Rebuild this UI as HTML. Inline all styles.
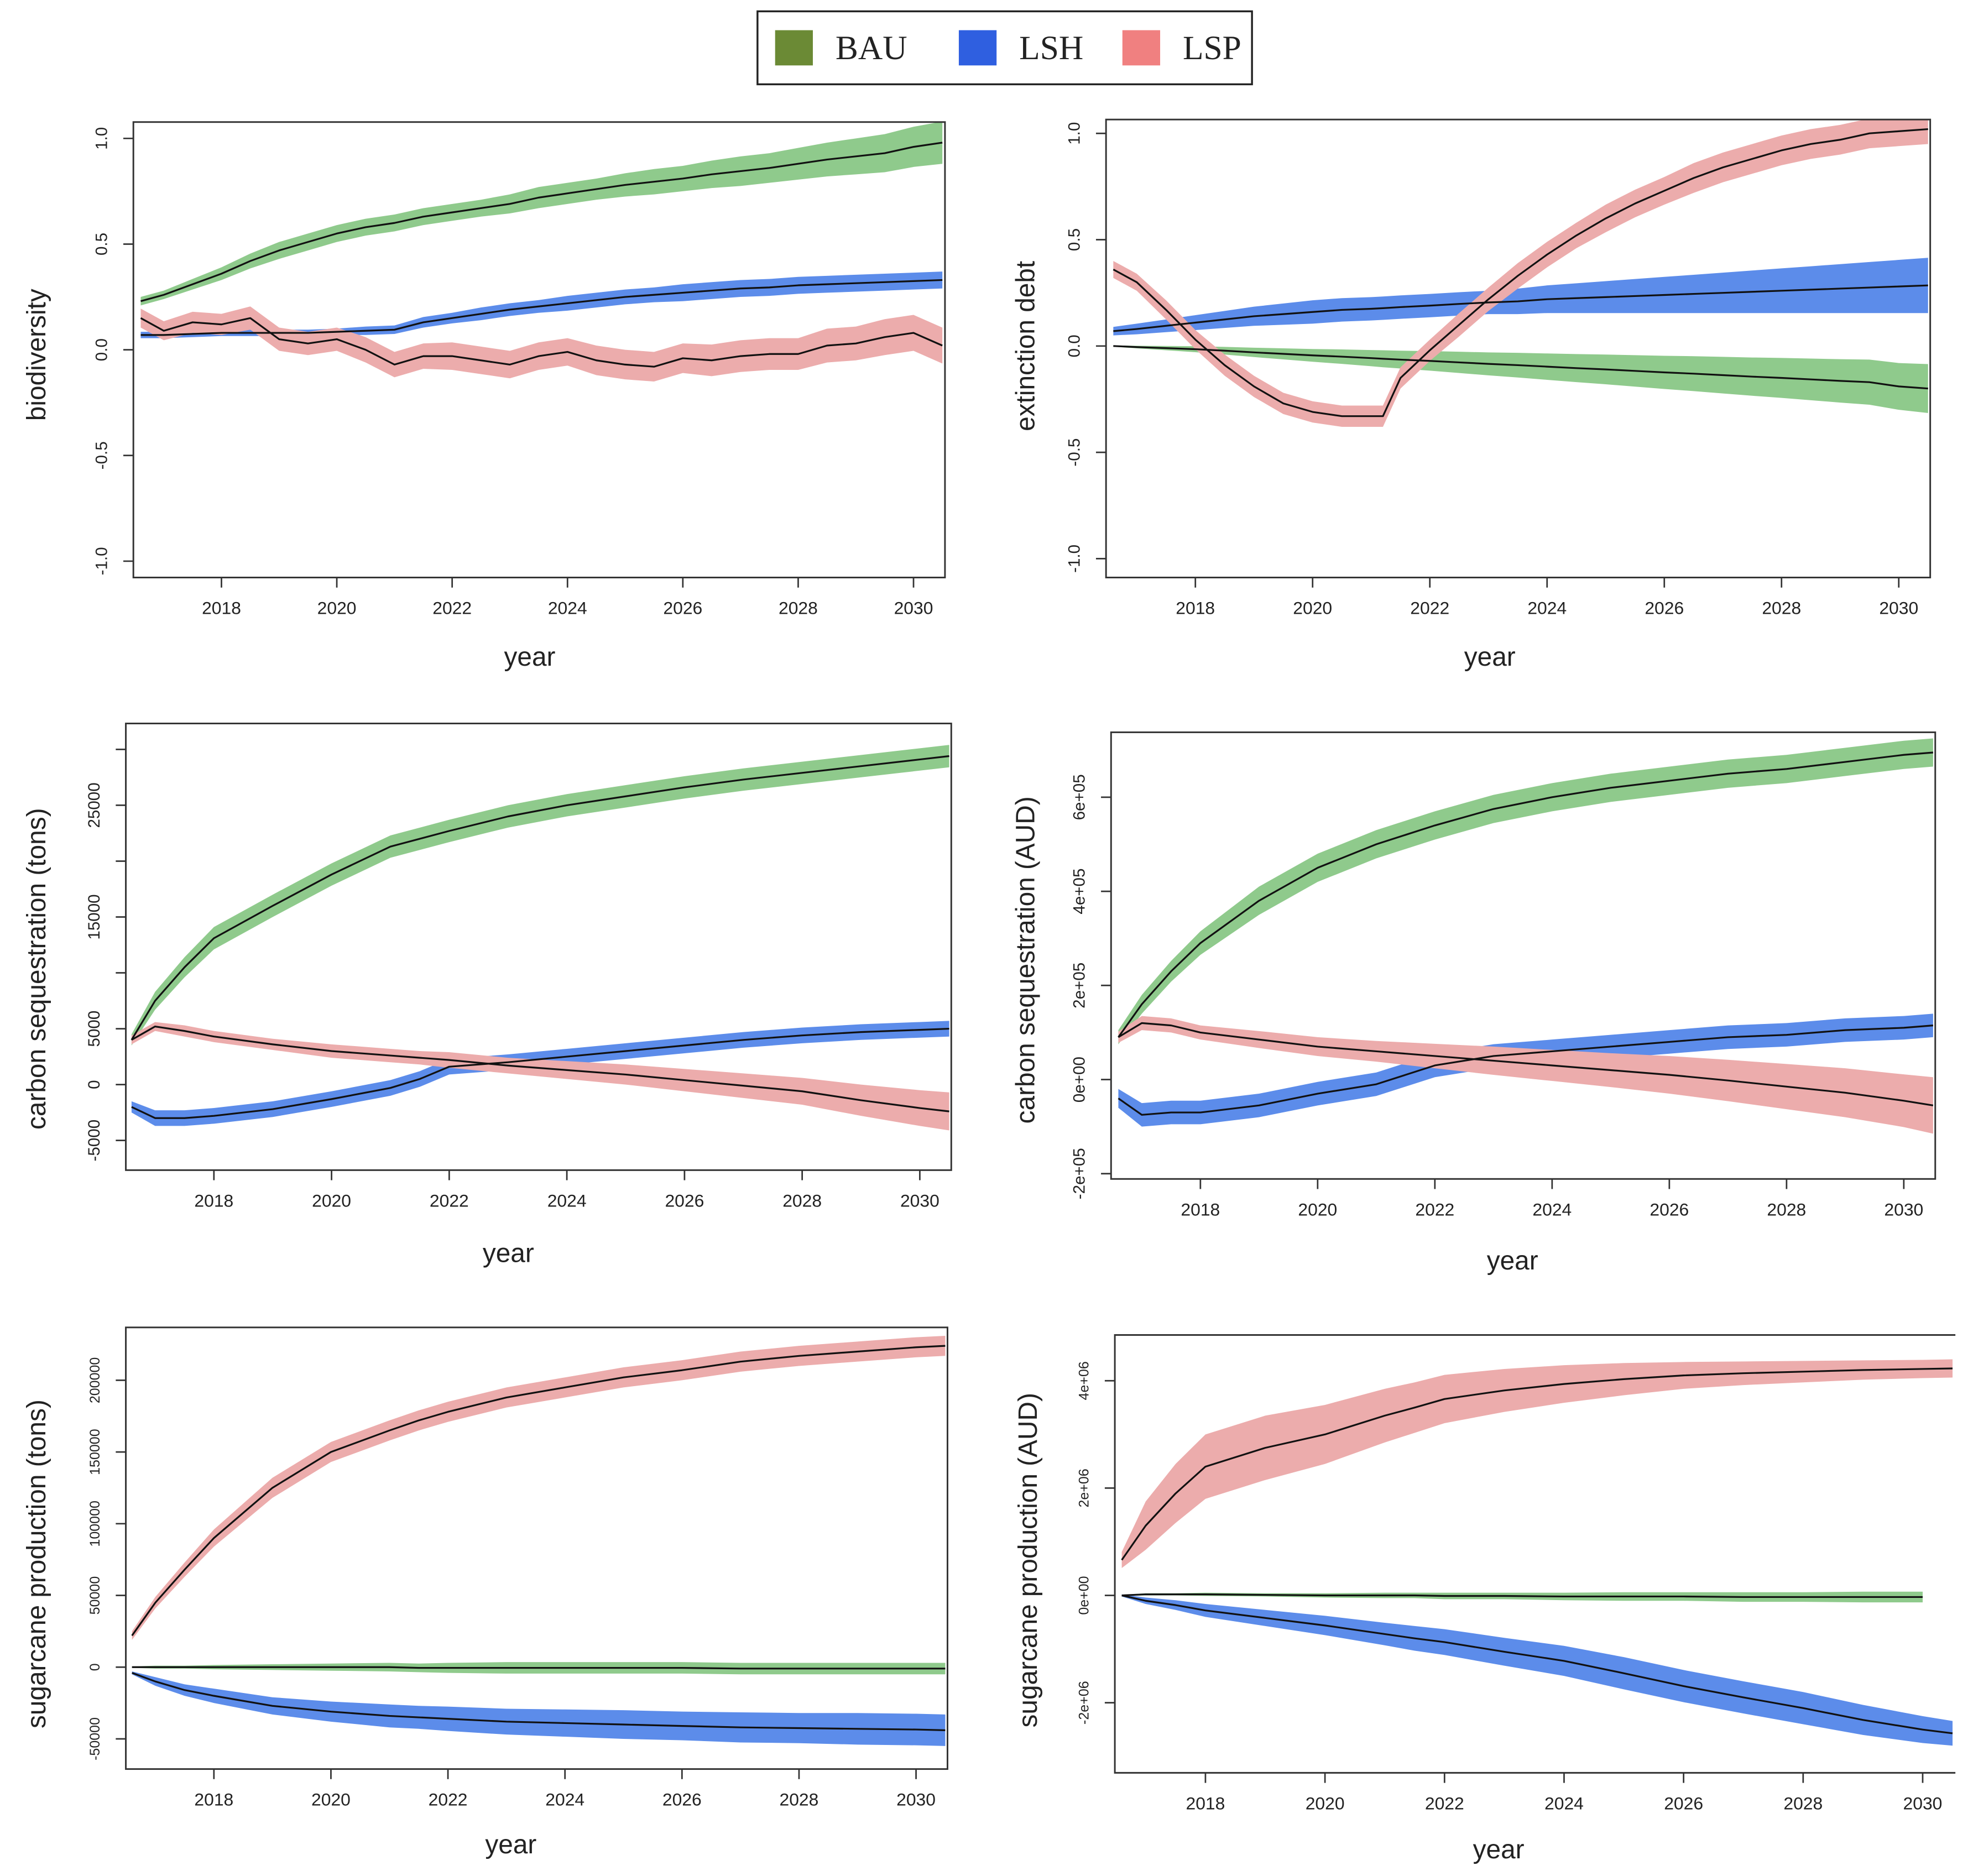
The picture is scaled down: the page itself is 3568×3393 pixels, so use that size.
<!DOCTYPE html>
<html><head><meta charset="utf-8"><style>
html,body{margin:0;padding:0;background:#fff;}
svg{display:block;}
text{font-family:"Liberation Sans",Arial,sans-serif;fill:#222;}
</style></head><body>
<svg id="fig" width="3568" height="3393" viewBox="0 0 1568 1491" preserveAspectRatio="none" xmlns="http://www.w3.org/2000/svg">
<g>
<rect x="602" y="9" width="393" height="58" fill="#fff" stroke="#222" stroke-width="1.5"/>
<rect x="616" y="24" width="30" height="28" fill="#6b8a35"/>
<text x="664" y="47" font-size="27" style="font-family:'Liberation Serif',serif">BAU</text>
<rect x="762" y="24" width="30" height="28" fill="#2f5fe0"/>
<text x="810" y="47" font-size="27" style="font-family:'Liberation Serif',serif">LSH</text>
<rect x="892" y="24" width="30" height="28" fill="#f08080"/>
<text x="940" y="47" font-size="27" style="font-family:'Liberation Serif',serif">LSP</text>
</g>
</svg>
<script>
// ---- shared
const xTickYears = [2018,2020,2022,2024,2026,2028,2030];
const xTickLabels = ["2018","2020","2022","2024","2026","2028","2030"];

// ---- panel 1 biodiversity
const bioYears = [2016.6,2017,2017.5,2018,2018.5,2019,2019.5,2020,2020.5,2021,2021.5,2022,2022.5,2023,2023.5,2024,2024.5,2025,2025.5,2026,2026.5,2027,2027.5,2028,2028.5,2029,2029.5,2030,2030.5];
const bioBAU = [0.23,0.26,0.31,0.36,0.42,0.47,0.51,0.55,0.58,0.60,0.63,0.65,0.67,0.69,0.72,0.74,0.76,0.78,0.795,0.81,0.83,0.845,0.86,0.88,0.90,0.915,0.93,0.96,0.98];
const bioBAUhw = [0.02,0.02,0.025,0.03,0.035,0.04,0.04,0.04,0.04,0.04,0.04,0.04,0.04,0.045,0.05,0.05,0.05,0.055,0.06,0.06,0.065,0.07,0.07,0.075,0.08,0.085,0.09,0.095,0.1];
const bioLSH = [0.07,0.07,0.075,0.08,0.08,0.08,0.08,0.085,0.09,0.095,0.13,0.15,0.17,0.19,0.205,0.22,0.235,0.25,0.26,0.27,0.28,0.29,0.295,0.305,0.31,0.315,0.32,0.325,0.33];
const bioLSHhw = [0.015,0.015,0.015,0.015,0.015,0.015,0.015,0.015,0.02,0.02,0.025,0.025,0.03,0.03,0.03,0.035,0.035,0.035,0.035,0.04,0.04,0.04,0.04,0.04,0.04,0.04,0.04,0.04,0.04];
const bioLSP = [0.15,0.09,0.13,0.12,0.15,0.05,0.03,0.05,0.0,-0.07,-0.03,-0.03,-0.05,-0.07,-0.03,-0.01,-0.05,-0.07,-0.08,-0.04,-0.05,-0.03,-0.02,-0.02,0.02,0.03,0.06,0.08,0.02];
const bioLSPhw = [0.045,0.045,0.05,0.05,0.055,0.055,0.055,0.055,0.06,0.06,0.06,0.065,0.065,0.065,0.065,0.065,0.07,0.07,0.07,0.07,0.075,0.075,0.075,0.075,0.08,0.08,0.085,0.085,0.085];
const bioTicks = [1.0,0.5,0.0,-0.5,-1.0];
const bioTickLabels = ["1.0","0.5","0.0","-0.5","-1.0"];

// ---- panel 2 extinction debt
const extYears = [2016.6,2017,2017.5,2018,2018.5,2019,2019.5,2020,2020.5,2021,2021.2,2021.5,2022,2022.5,2023,2023.5,2024,2024.5,2025,2025.5,2026,2026.5,2027,2027.5,2028,2028.5,2029,2029.5,2030,2030.5];
const extBAU = [0,-0.005,-0.01,-0.015,-0.022,-0.03,-0.037,-0.044,-0.05,-0.057,-0.06,-0.064,-0.07,-0.077,-0.084,-0.09,-0.097,-0.104,-0.11,-0.117,-0.124,-0.13,-0.137,-0.144,-0.15,-0.157,-0.164,-0.17,-0.19,-0.2];
const extBAUhw = [0.003,0.006,0.01,0.014,0.018,0.022,0.026,0.03,0.034,0.038,0.04,0.042,0.046,0.05,0.054,0.058,0.062,0.066,0.07,0.074,0.078,0.082,0.086,0.09,0.094,0.098,0.102,0.106,0.11,0.115];
const extLSH = [0.07,0.08,0.095,0.11,0.125,0.14,0.15,0.16,0.17,0.175,0.178,0.183,0.19,0.198,0.205,0.21,0.22,0.225,0.23,0.235,0.24,0.245,0.25,0.255,0.26,0.265,0.27,0.275,0.28,0.285];
const extLSHhw = [0.02,0.025,0.03,0.035,0.04,0.045,0.05,0.055,0.055,0.055,0.055,0.055,0.055,0.055,0.055,0.06,0.065,0.07,0.075,0.08,0.085,0.09,0.095,0.1,0.105,0.11,0.115,0.12,0.125,0.13];
const extLSP = [0.36,0.30,0.17,0.03,-0.09,-0.19,-0.27,-0.31,-0.33,-0.33,-0.33,-0.15,-0.02,0.10,0.22,0.33,0.43,0.52,0.60,0.67,0.73,0.79,0.84,0.88,0.92,0.95,0.97,1.0,1.01,1.02];
const extLSPhw = [0.04,0.04,0.045,0.045,0.05,0.05,0.05,0.05,0.05,0.05,0.05,0.05,0.05,0.055,0.055,0.06,0.06,0.06,0.065,0.065,0.065,0.07,0.07,0.07,0.07,0.07,0.07,0.07,0.07,0.07];
const extTicks = [1.0,0.5,0.0,-0.5,-1.0];
const extTickLabels = ["1.0","0.5","0.0","-0.5","-1.0"];

// ---- panels 3-6 year grid
const gridYears = [2016.6,2017,2017.5,2018,2019,2020,2021,2021.5,2022,2023,2024,2025,2026,2027,2028,2029,2030,2030.5];

// panel 3 carbon (tons)
const ctBAU = [4000,7500,10500,13100,16000,18800,21300,22000,22700,24000,25000,25800,26600,27300,27900,28500,29100,29400];
const ctBAUhw = [500,800,900,1000,1000,1000,1000,1000,1000,1000,1000,1000,1000,1000,1000,1000,1000,1000];
const ctLSP = [4000,5200,4800,4300,3600,3000,2600,2400,2200,1700,1300,900,400,-100,-600,-1400,-2100,-2400];
const ctLSPhw = [400,400,500,500,500,600,600,600,700,700,800,900,1000,1100,1200,1400,1600,1700];
const ctLSH = [-2000,-3000,-3000,-2800,-2200,-1300,-300,500,1600,2000,2500,3000,3500,4000,4400,4700,4900,5000];
const ctLSHhw = [500,700,700,700,700,700,700,700,700,700,700,700,700,700,700,700,700,700];
const ctTicks = [-5000,0,5000,10000,15000,20000,25000,30000];
const ctTickLabels = ["-5000","0","5000","","15000","","25000",""];

// panel 4 carbon (AUD, units 1e5)
const caBAU = [0.9,1.6,2.3,2.9,3.8,4.5,5.0,5.2,5.4,5.75,6.0,6.2,6.35,6.5,6.6,6.75,6.9,6.95];
const caBAUhw = [0.15,0.2,0.22,0.25,0.3,0.3,0.3,0.3,0.3,0.3,0.3,0.3,0.3,0.3,0.3,0.3,0.3,0.3];
const caLSP = [0.9,1.2,1.15,1.0,0.85,0.7,0.6,0.55,0.5,0.4,0.3,0.2,0.1,-0.02,-0.15,-0.28,-0.45,-0.55];
const caLSPhw = [0.12,0.15,0.15,0.15,0.18,0.2,0.22,0.24,0.26,0.3,0.33,0.36,0.4,0.44,0.48,0.52,0.56,0.6];
const caLSH = [-0.4,-0.75,-0.7,-0.7,-0.55,-0.3,-0.1,0.1,0.3,0.5,0.6,0.7,0.8,0.9,0.95,1.05,1.1,1.15];
const caLSHhw = [0.2,0.25,0.25,0.25,0.25,0.25,0.25,0.25,0.25,0.25,0.25,0.25,0.25,0.25,0.25,0.25,0.25,0.25];
const caTicks = [-2,0,2,4,6];
const caTickLabels = ["-2e+05","0e+00","2e+05","4e+05","6e+05"];

// panel 5 sugarcane (tons, units 1000)
const stLSP = [22,45,68,90,125,150,165,172,178,188,195,202,207,213,217,220,223,224];
const stLSPhw = [3,4,5,6,7,7,7,7,7,7,7,7,7,7,7,7,7,7];
const stBAU = [0,0,0,0,0,0,0,-0.5,-0.5,-0.5,-0.5,-0.5,-0.5,-1,-1,-1,-1,-1];
const stBAUhw = [0.5,1,1,1.5,2,2.5,3,3,3.5,4,4,4,4,4,4,4,4,4];
const stLSH = [-4,-10,-16,-20,-27,-31,-34,-35,-36,-38,-39,-40,-41,-42,-42.5,-43,-43.5,-44];
const stLSHhw = [1,3,4,5,6,7,8,8,8.5,9,9.5,10,10,10.5,10.5,11,11,11];
const stTicks = [-50,0,50,100,150,200];
const stTickLabels = ["-50000","0","50000","100000","150000","200000"];

// panel 6 sugarcane (AUD, units 1e6)
const saLSP = [0.66,1.3,1.9,2.4,2.75,3.0,3.35,3.5,3.66,3.82,3.94,4.03,4.1,4.14,4.17,4.2,4.22,4.23];
const saLSPhw = [0.15,0.45,0.55,0.6,0.6,0.55,0.5,0.47,0.45,0.4,0.35,0.3,0.25,0.22,0.2,0.18,0.17,0.17];
const saBAU = [0,0.02,0.02,0.02,0.01,0,0,0,-0.01,-0.01,-0.02,-0.02,-0.02,-0.03,-0.03,-0.03,-0.03,null];
const saBAUhw = [0.01,0.02,0.02,0.03,0.03,0.04,0.05,0.05,0.06,0.06,0.07,0.08,0.08,0.09,0.09,0.1,0.1,null];
const saLSH = [0,-0.1,-0.18,-0.28,-0.42,-0.56,-0.72,-0.8,-0.87,-1.05,-1.22,-1.45,-1.69,-1.9,-2.1,-2.32,-2.5,-2.57];
const saLSHhw = [0.02,0.06,0.09,0.12,0.15,0.18,0.21,0.23,0.24,0.26,0.28,0.3,0.3,0.3,0.3,0.28,0.25,0.23];
const saTicks = [-2,0,2,4];
const saTickLabels = ["-2e+06","0e+00","2e+06","4e+06"];

const NS = "http://www.w3.org/2000/svg";
const svg = document.getElementById('fig');
const COL = {BAU:'rgb(143,202,140)', LSH:'rgb(92,140,234)', LSP:'rgb(236,172,172)'};

function mk(tag, attrs, parent){
  const e = document.createElementNS(NS, tag);
  for (const k in attrs) e.setAttribute(k, attrs[k]);
  (parent||svg).appendChild(e);
  return e;
}

function scale(d0,p0,d1,p1){ return v => p0 + (v-d0)*(p1-p0)/(d1-d0); }

let clipId = 0;
function panel(cfg){
  const g = mk('g', {});
  
  
  const xs = scale(2018, cfg.x2018, 2030, cfg.x2030);
  const ys = scale(cfg.yA[0], cfg.yA[1], cfg.yB[0], cfg.yB[1]);
  const id = 'c' + (clipId++);
  const cp = mk('clipPath', {id:id}, g);
  mk('rect', {x:cfg.L, y:cfg.T, width:cfg.R-cfg.L, height:cfg.B-cfg.T}, cp);
  const plot = mk('g', {'clip-path':'url(#'+id+')'}, g);
  
  
  cfg.series.forEach(s => {
    const up = [], lo = [];
    cfg.years.forEach((yr,i) => {
      if (s.v[i] == null) return;
      up.push(xs(yr).toFixed(2)+','+ys(s.v[i]+s.hw[i]).toFixed(2));
      lo.push(xs(yr).toFixed(2)+','+ys(s.v[i]-s.hw[i]).toFixed(2));
    });
    const band = mk('polygon', {points: up.concat(lo.reverse()).join(' '), fill: COL[s.k]}, plot);
    
    
  });
  cfg.series.forEach(s => {
    const pts = [];
    cfg.years.forEach((yr,i) => { if (s.v[i] != null) pts.push(xs(yr).toFixed(2)+','+ys(s.v[i]).toFixed(2)); });
    const ln = mk('polyline', {points: pts.join(' '), fill:'none', stroke:'#111', 'stroke-width':1.4, 'stroke-linejoin':'round'}, plot);
    
    
  });
  if (cfg.noRight){
    mk('polyline', {points:`${cfg.R},${cfg.T} ${cfg.L},${cfg.T} ${cfg.L},${cfg.B} ${cfg.R},${cfg.B}`, fill:'none', stroke:'#333', 'stroke-width':1.3}, g);
  } else {
    mk('rect', {x:cfg.L, y:cfg.T, width:cfg.R-cfg.L, height:cfg.B-cfg.T, fill:'none', stroke:'#333', 'stroke-width':1.3}, g);
  }
  xTickYears.forEach((yr,i) => {
    const x = xs(yr);
    mk('line', {x1:x, x2:x, y1:cfg.B, y2:cfg.B+8, stroke:'#333', 'stroke-width':1.2}, g);
    const t = mk('text', {x:x, y:cfg.B+29, 'font-size':14, 'text-anchor':'middle'}, g);
    t.textContent = xTickLabels[i];
    
    
  });
  cfg.ticks.forEach((v,i) => {
    const y = ys(v);
    mk('line', {x1:cfg.L-8, x2:cfg.L, y1:y, y2:y, stroke:'#333', 'stroke-width':1.2}, g);
    if (!cfg.tickLabels[i]) return;
    const tx = cfg.L - 21;
    const t = mk('text', {x:tx, y:y, 'font-size':cfg.tfs||13, 'text-anchor':'middle', transform:`rotate(-90 ${tx} ${y})`, fill:'#444'}, g);
    t.textContent = cfg.tickLabels[i];
    
    
  });
  const xt = mk('text', {x:cfg.xtX, y:cfg.xtY, 'font-size':21, 'text-anchor':'middle'}, g);
  xt.textContent = 'year';
  
  
  const yt = mk('text', {x:cfg.ytX, y:cfg.ytY, 'font-size':21, 'text-anchor':'middle', transform:`rotate(-90 ${cfg.ytX} ${cfg.ytY})`}, g);
  yt.textContent = cfg.yTitle;
  
  
}

panel({name:'biodiversity-chart', L:106,R:751,T:97,B:459, x2018:176,x2030:726, yA:[0,278], yB:[1,110],
  years:bioYears, ticks:bioTicks, tickLabels:bioTickLabels, xtX:421,xtY:529, ytX:36,ytY:282, yTitle:'biodiversity',
  series:[{k:'BAU',v:bioBAU,hw:bioBAUhw},{k:'LSH',v:bioLSH,hw:bioLSHhw},{k:'LSP',v:bioLSP,hw:bioLSPhw}]});

panel({name:'extinction-debt-chart', L:879,R:1534,T:95,B:459, x2018:950,x2030:1509, yA:[0,275], yB:[1,106],
  years:extYears, ticks:extTicks, tickLabels:extTickLabels, xtX:1184,xtY:529, ytX:822,ytY:275, yTitle:'extinction debt',
  series:[{k:'LSH',v:extLSH,hw:extLSHhw},{k:'BAU',v:extBAU,hw:extBAUhw},{k:'LSP',v:extLSP,hw:extLSPhw}]});

panel({name:'carbon-tons-chart', L:100,R:756,T:575,B:930, x2018:170,x2030:731, yA:[0,862], yB:[25000,640],
  years:gridYears, ticks:ctTicks, tickLabels:ctTickLabels, xtX:404,xtY:1003, ytX:36,ytY:770, yTitle:'carbon sequestration (tons)',
  series:[{k:'BAU',v:ctBAU,hw:ctBAUhw},{k:'LSH',v:ctLSH,hw:ctLSHhw},{k:'LSP',v:ctLSP,hw:ctLSPhw}]});

panel({name:'carbon-aud-chart', L:883,R:1538,T:582,B:937, x2018:954,x2030:1513, yA:[0,858], yB:[2,783.2],
  years:gridYears, ticks:caTicks, tickLabels:caTickLabels, xtX:1202,xtY:1009, ytX:822,ytY:763, yTitle:'carbon sequestration (AUD)',
  series:[{k:'BAU',v:caBAU,hw:caBAUhw},{k:'LSH',v:caLSH,hw:caLSHhw},{k:'LSP',v:caLSP,hw:caLSPhw}]});

panel({name:'sugarcane-tons-chart', L:100,R:753,T:1055,B:1406, x2018:170,x2030:728, yA:[0,1325], yB:[50,1268],
  years:gridYears, ticks:stTicks, tickLabels:stTickLabels, tfs:11, xtX:406,xtY:1473, ytX:36,ytY:1243, yTitle:'sugarcane production (tons)',
  series:[{k:'LSP',v:stLSP,hw:stLSPhw},{k:'BAU',v:stBAU,hw:stBAUhw},{k:'LSH',v:stLSH,hw:stLSHhw}]});

panel({name:'sugarcane-aud-chart', L:886,R:1554,T:1061,B:1409, noRight:true, x2018:958,x2030:1528, yA:[0,1268], yB:[2,1182.7],
  years:gridYears, ticks:saTicks, tickLabels:saTickLabels, tfs:11, xtX:1191,xtY:1477, ytX:824,ytY:1240, yTitle:'sugarcane production (AUD)',
  series:[{k:'LSP',v:saLSP,hw:saLSPhw},{k:'BAU',v:saBAU,hw:saBAUhw},{k:'LSH',v:saLSH,hw:saLSHhw}]});
</script>
</body></html>
